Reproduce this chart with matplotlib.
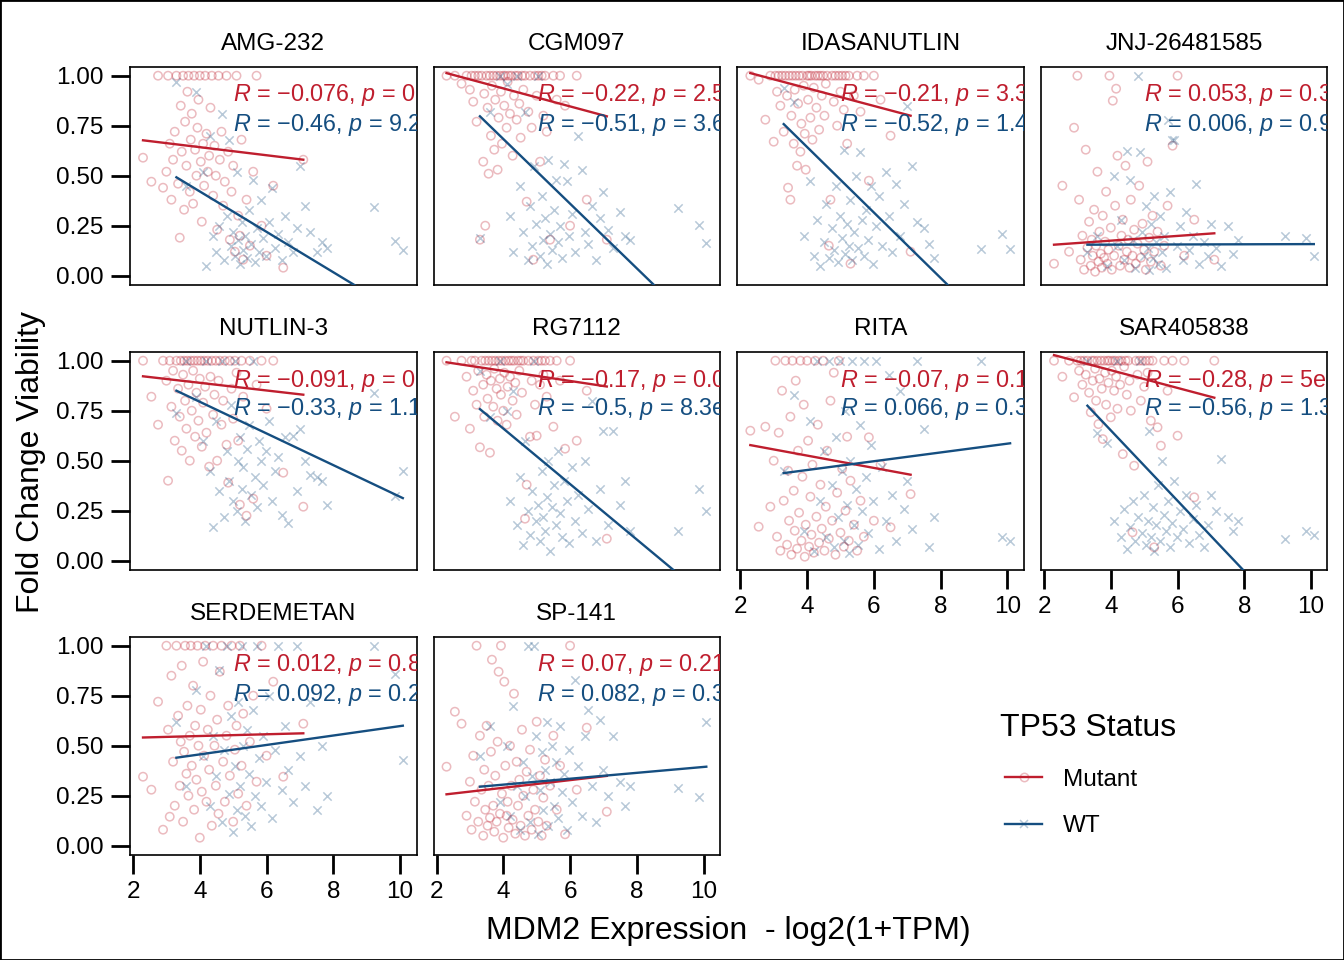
import matplotlib
matplotlib.use("Agg")
import matplotlib.pyplot as plt
from matplotlib.lines import Line2D
from matplotlib.patches import Rectangle

# ====== Data ======
DRUGS = ["AMG-232", "CGM097", "IDASANUTLIN", "JNJ-26481585", "NUTLIN-3",
         "RG7112", "RITA", "SAR405838", "SERDEMETAN", "SP-141"]

# MDM2 expression of the cell lines, log2(1+TPM)
MUT_X = [2.3, 2.55, 2.75, 2.9, 3.0, 3.05, 3.1, 3.15, 3.2, 3.25,
         3.3, 3.35, 3.4, 3.43, 3.46, 3.5, 3.53, 3.56, 3.6, 3.63,
         3.66, 3.7, 3.73, 3.76, 3.8, 3.83, 3.86, 3.9, 3.93, 3.96,
         4.0, 4.03, 4.06, 4.1, 4.13, 4.16, 4.2, 4.24, 4.28, 4.32,
         4.36, 4.4, 4.44, 4.48, 4.52, 4.56, 4.6, 4.65, 4.7, 4.75,
         4.8, 4.85, 4.9, 4.95, 5.0, 5.05, 5.1, 5.15, 5.2, 5.25,
         5.3, 5.4, 5.5, 5.6, 5.7, 5.85, 6.0, 6.2, 6.5, 7.1]
WT_X = [3.3, 3.6, 3.9, 4.1, 4.2, 4.3, 4.4, 4.5, 4.58, 4.66,
        4.74, 4.8, 4.86, 4.92, 4.98, 5.04, 5.1, 5.15, 5.2, 5.25,
        5.3, 5.35, 5.4, 5.46, 5.52, 5.58, 5.64, 5.7, 5.76, 5.82,
        5.9, 5.98, 6.06, 6.15, 6.25, 6.35, 6.45, 6.55, 6.65, 6.78,
        6.9, 7.0, 7.15, 7.3, 7.5, 7.65, 7.8, 9.22, 9.85, 10.08]

# Fold change viability per drug
AMG232_MUT = [0.59, 0.47, 1.0, 0.44, 0.52, 1.0, 0.66, 0.38, 0.58, 0.72,
              1.0, 0.46, 0.19, 0.85, 0.62, 1.0, 0.33, 0.77, 0.55, 0.92,
              1.0, 0.42, 0.68, 0.81, 0.36, 1.0, 0.63, 0.5, 0.74, 0.88,
              1.0, 0.57, 0.27, 0.66, 0.45, 1.0, 0.71, 0.52, 0.6, 0.84,
              1.0, 0.4, 0.65, 0.5, 0.23, 1.0, 0.58, 0.72, 0.35, 0.47,
              1.0, 0.62, 0.18, 0.42, 0.55, 0.12, 1.0, 0.3, 0.2, 0.68,
              0.08, 0.38, 0.15, 0.52, 1.0, 0.25, 0.1, 0.45, 0.04, 0.58]
AMG232_WT = [0.97, 0.45, 0.92, 0.52, 0.05, 0.7, 0.2, 0.12, 0.25, 0.81,
             0.08, 0.3, 0.68, 0.15, 0.22, 0.1, 0.52, 0.18, 0.06, 0.27,
             0.13, 0.2, 0.09, 0.33, 0.16, 0.48, 0.07, 0.24, 0.12, 0.38,
             0.19, 0.1, 0.27, 0.44, 0.14, 0.21, 0.08, 0.3, 0.17, 0.12,
             0.24, 0.55, 0.35, 0.22, 0.12, 0.17, 0.14, 0.345, 0.175, 0.13]

CGM097_MUT = [1.0, 1.0, 0.96, 1.0, 0.93, 1.0, 0.87, 1.0, 0.77, 1.0,
              0.18, 1.0, 0.57, 0.91, 0.25, 1.0, 0.84, 0.51, 1.0, 0.7,
              0.95, 1.0, 0.63, 0.88, 1.0, 0.53, 0.79, 1.0, 0.92, 0.66,
              1.0, 0.85, 1.0, 0.74, 0.97, 1.0, 0.81, 1.0, 0.6, 0.9,
              1.0, 0.78, 1.0, 0.86, 0.69, 1.0, 0.93, 1.0, 0.37, 0.82,
              1.0, 0.74, 0.08, 1.0, 0.9, 1.0, 0.57, 1.0, 0.8, 1.0,
              0.72, 0.18, 1.0, 0.88, 1.0, 0.85, 0.25, 1.0, 0.38, 0.18]
CGM097_WT = [0.19, 0.82, 1.0, 0.96, 0.3, 0.12, 1.0, 0.45, 0.22, 0.82,
             0.08, 0.35, 0.15, 0.55, 0.26, 1.0, 0.1, 0.4, 0.18, 0.29,
             0.06, 0.58, 0.21, 0.13, 0.33, 0.48, 0.17, 0.25, 0.09, 0.56,
             0.475, 0.2, 0.31, 0.12, 0.7, 0.53, 0.22, 0.16, 0.35, 0.08,
             0.29, 0.42, 0.23, 0.14, 0.32, 0.2, 0.18, 0.34, 0.255, 0.165]

IDASANUTLIN_MUT = [1.0, 0.98, 0.78, 1.0, 0.67, 1.0, 0.92, 1.0, 0.85, 1.0,
                   0.72, 1.0, 0.9, 0.44, 1.0, 0.38, 0.8, 1.0, 0.66, 0.93,
                   1.0, 0.55, 0.86, 1.0, 0.62, 0.76, 1.0, 0.95, 0.71, 0.53,
                   1.0, 0.88, 1.0, 0.79, 1.0, 0.68, 0.94, 1.0, 0.84, 1.0,
                   0.73, 1.0, 0.9, 1.0, 0.8, 0.96, 1.0, 0.15, 0.38, 1.0,
                   0.87, 1.0, 0.75, 1.0, 0.92, 1.0, 0.83, 1.0, 0.66, 1.0,
                   0.06, 0.9, 1.0, 0.82, 1.0, 0.475, 1.0, 0.88, 0.7, 0.12]
IDASANUTLIN_WT = [0.94, 0.87, 0.2, 0.475, 0.1, 0.28, 0.05, 0.17, 0.36, 0.09,
                  0.24, 0.13, 0.45, 0.07, 0.3, 0.19, 0.63, 0.11, 0.26, 0.15,
                  0.38, 0.08, 0.22, 0.5, 0.14, 0.62, 0.28, 0.1, 0.33, 0.18,
                  0.45, 0.06, 0.25, 0.4, 0.15, 0.52, 0.3, 0.12, 0.46, 0.2,
                  0.36, 0.85, 0.55, 0.27, 0.24, 0.16, 0.09, 0.133, 0.21, 0.135]

JNJ_MUT = [0.06, 0.45, 0.12, 0.74, 1.0, 0.38, 0.08, 0.2, 0.03, 0.63,
           0.14, 0.27, 0.05, 0.18, 0.1, 0.33, 0.02, 0.15, 0.52, 0.07,
           0.22, 0.11, 0.04, 0.3, 0.09, 0.17, 0.42, 0.06, 0.13, 1.0,
           0.24, 0.03, 0.875, 0.1, 0.35, 0.935, 0.6, 0.15, 0.05, 0.2,
           0.28, 0.08, 0.55, 0.12, 0.18, 0.04, 0.38, 0.1, 0.23, 0.06,
           0.16, 0.45, 0.09, 0.26, 0.13, 0.03, 0.57, 0.19, 0.07, 0.3,
           0.12, 0.22, 0.05, 0.15, 0.35, 0.65, 1.0, 0.1, 0.28, 0.08]
JNJ_WT = [0.12, 0.2, 0.05, 0.5, 0.15, 0.28, 0.08, 0.625, 0.48, 0.18,
          0.04, 1.0, 0.62, 0.22, 0.1, 0.35, 0.14, 0.03, 0.26, 0.09,
          0.4, 0.17, 0.06, 0.3, 0.12, 0.2, 0.04, 0.78, 0.42, 0.68,
          0.68, 0.15, 0.25, 0.08, 0.32, 0.13, 0.2, 0.46, 0.06, 0.17,
          0.1, 0.26, 0.14, 0.05, 0.25, 0.11, 0.18, 0.2, 0.19, 0.1]

NUTLIN3_MUT = [1.0, 0.82, 0.68, 1.0, 0.9, 0.4, 1.0, 0.77, 0.95, 0.6,
               1.0, 0.86, 0.72, 1.0, 0.55, 0.93, 1.0, 0.8, 0.66, 1.0,
               0.88, 0.5, 1.0, 0.75, 0.95, 1.0, 0.62, 0.84, 1.0, 0.7,
               0.91, 1.0, 0.57, 0.79, 1.0, 0.87, 0.64, 1.0, 0.47, 0.92,
               1.0, 0.73, 0.83, 1.0, 0.5, 0.9, 1.0, 0.68, 0.8, 1.0,
               0.58, 0.39, 1.0, 0.86, 0.71, 1.0, 0.94, 0.6, 0.28, 1.0,
               0.82, 0.225, 1.0, 0.31, 0.88, 1.0, 0.76, 1.0, 0.44, 0.27]
NUTLIN3_WT = [0.74, 1.0, 0.82, 0.6, 1.0, 0.45, 0.167, 0.7, 0.35, 1.0,
              0.217, 0.55, 0.4, 0.78, 0.3, 1.0, 0.25, 0.5, 0.62, 0.36,
              0.47, 0.2, 0.56, 0.68, 0.33, 1.0, 0.42, 0.27, 0.6, 0.5,
              0.38, 0.55, 0.7, 0.3, 0.45, 0.52, 0.23, 0.62, 0.19, 0.625,
              0.35, 0.66, 0.5, 0.43, 0.42, 0.4, 0.28, 0.84, 0.325, 0.45]

RG7112_MUT = [1.0, 0.72, 1.0, 0.92, 0.66, 1.0, 0.85, 1.0, 0.78, 0.95,
              0.567, 1.0, 0.88, 0.72, 1.0, 0.93, 0.81, 1.0, 0.54, 0.9,
              1.0, 0.77, 0.96, 1.0, 0.86, 0.7, 1.0, 0.91, 0.83, 1.0,
              0.75, 0.94, 1.0, 0.68, 0.87, 1.0, 0.92, 1.0, 0.8, 1.0,
              0.89, 0.73, 1.0, 0.95, 1.0, 0.84, 1.0, 0.21, 0.38, 1.0,
              0.62, 0.9, 1.0, 0.78, 0.625, 1.0, 0.88, 1.0, 0.93, 1.0,
              0.82, 1.0, 0.67, 1.0, 0.9, 0.56, 1.0, 0.6, 0.85, 0.11]
RG7112_WT = [0.95, 0.72, 1.0, 0.75, 0.3, 0.85, 0.18, 0.42, 0.08, 0.6,
             0.25, 0.13, 0.35, 1.0, 0.2, 0.28, 0.1, 0.45, 0.22, 0.15,
             0.32, 0.5, 0.05, 0.27, 0.38, 0.18, 0.55, 0.24, 0.12, 0.4,
             0.3, 0.09, 0.47, 0.2, 0.33, 0.14, 0.5, 0.26, 0.8, 0.1,
             0.36, 0.65, 0.18, 0.65, 0.28, 0.4, 0.15, 0.15, 0.358, 0.25]

RITA_MUT = [0.65, 0.17, 0.67, 0.27, 0.5, 1.0, 0.12, 0.64, 0.05, 0.85,
            0.3, 1.0, 0.08, 0.45, 0.2, 0.72, 0.03, 1.0, 0.35, 0.15,
            0.9, 0.06, 0.55, 0.24, 1.0, 0.1, 0.42, 0.78, 0.02, 0.18,
            1.0, 0.6, 0.07, 0.32, 0.13, 0.48, 0.04, 1.0, 0.22, 0.68,
            0.09, 0.38, 0.16, 1.0, 0.05, 0.27, 0.55, 0.11, 0.8, 0.2,
            0.94, 0.03, 0.34, 1.0, 0.14, 0.46, 0.07, 0.25, 0.62, 0.1,
            0.4, 0.18, 0.05, 0.3, 0.12, 0.617, 0.2, 0.48, 0.167, 0.333]
RITA_WT = [0.45, 0.83, 0.15, 0.7, 0.05, 1.0, 0.3, 0.55, 0.12, 1.0,
           0.38, 0.07, 0.62, 0.22, 1.0, 0.45, 0.1, 0.75, 0.28, 0.04,
           0.5, 1.0, 0.18, 0.36, 0.08, 0.68, 0.25, 1.0, 0.42, 0.14,
           0.58, 0.3, 1.0, 0.06, 0.47, 0.2, 0.93, 0.33, 0.1, 0.85,
           0.26, 0.4, 0.16, 1.0, 0.66, 0.07, 0.22, 1.0, 0.12, 0.1]

SAR405838_MUT = [1.0, 0.92, 1.0, 0.817, 1.0, 0.95, 1.0, 0.88, 1.0, 0.93,
                 1.0, 0.84, 0.742, 1.0, 0.9, 1.0, 0.96, 0.8, 1.0, 0.683,
                 0.91, 1.0, 0.86, 0.608, 1.0, 0.94, 0.78, 1.0, 0.89, 1.0,
                 0.717, 0.95, 1.0, 0.85, 1.0, 0.92, 0.76, 1.0, 0.88, 1.0,
                 0.533, 0.97, 1.0, 0.83, 1.0, 0.9, 0.75, 0.142, 0.475, 1.0,
                 0.93, 1.0, 0.8, 1.0, 0.87, 1.0, 0.94, 1.0, 0.7, 1.0,
                 0.067, 0.667, 0.575, 1.0, 0.85, 1.0, 0.625, 1.0, 0.317, 1.0]
SAR405838_WT = [1.0, 0.64, 0.59, 0.2, 1.0, 0.12, 0.26, 0.058, 0.17, 0.3,
                0.1, 0.22, 1.0, 0.14, 0.33, 0.08, 0.2, 0.65, 0.12, 0.27,
                0.05, 0.18, 0.38, 0.1, 0.5, 0.23, 0.15, 0.3, 0.07, 0.19,
                0.4, 0.12, 0.25, 0.16, 0.33, 0.09, 0.21, 0.28, 0.13, 0.07,
                0.18, 0.33, 0.25, 0.508, 0.22, 0.15, 0.2, 0.11, 0.147, 0.13]

SERDEMETAN_MUT = [0.345, 0.28, 0.72, 0.08, 1.0, 0.58, 0.145, 0.85, 0.42, 0.2,
                  1.0, 0.65, 0.3, 0.52, 0.9, 0.12, 0.47, 1.0, 0.36, 0.7,
                  0.25, 0.55, 1.0, 0.4, 0.8, 0.18, 0.6, 0.33, 1.0, 0.5,
                  0.04, 0.68, 0.27, 0.92, 0.45, 1.0, 0.22, 0.58, 0.38, 0.75,
                  0.1, 1.0, 0.5, 0.3, 0.63, 0.16, 0.87, 1.0, 0.42, 0.22,
                  0.55, 0.7, 0.35, 1.0, 0.12, 0.48, 0.6, 0.26, 1.0, 0.4,
                  0.66, 0.2, 0.52, 0.75, 0.32, 1.0, 0.45, 0.82, 0.345, 0.61]
SERDEMETAN_WT = [0.62, 0.3, 0.78, 0.45, 1.0, 0.2, 0.55, 0.35, 0.88, 0.12,
                 0.48, 1.0, 0.26, 0.65, 0.07, 0.4, 0.18, 0.72, 0.3, 1.0,
                 0.5, 0.15, 0.58, 0.36, 0.1, 0.68, 0.25, 1.0, 0.44, 0.2,
                 0.55, 0.32, 0.75, 0.14, 0.48, 1.0, 0.28, 0.6, 0.38, 0.22,
                 1.0, 0.45, 0.3, 0.72, 0.18, 0.5, 0.25, 1.0, 0.86, 0.43]

SP141_MUT = [0.395, 0.67, 0.61, 0.15, 0.32, 0.08, 0.45, 0.22, 1.0, 0.12,
             0.55, 0.28, 0.05, 0.38, 0.18, 0.6, 0.1, 0.3, 0.14, 0.47,
             0.93, 0.2, 0.07, 0.35, 0.12, 0.52, 0.87, 0.16, 1.0, 0.26,
             0.04, 0.82, 0.4, 0.15, 0.22, 0.09, 0.5, 0.3, 0.13, 0.76,
             0.06, 0.42, 0.2, 0.33, 0.1, 0.58, 0.25, 0.05, 0.37, 0.15,
             0.48, 0.08, 0.28, 0.18, 0.62, 0.12, 0.35, 0.05, 0.24, 0.43,
             0.1, 0.3, 0.55, 0.18, 0.4, 0.057, 1.0, 0.28, 0.59, 0.17]
SP141_WT = [0.45, 0.6, 0.22, 0.5, 0.15, 0.7, 0.3, 0.08, 0.42, 0.25,
            1.0, 0.12, 0.35, 1.0, 0.55, 0.06, 0.28, 0.47, 0.18, 0.38,
            0.62, 0.1, 0.32, 0.5, 0.2, 0.42, 0.14, 0.6, 0.27, 0.36,
            0.08, 0.48, 0.22, 0.83, 0.4, 0.15, 0.55, 0.68, 0.3, 0.12,
            0.63, 0.38, 0.25, 0.55, 0.32, 0.2, 0.3, 0.287, 0.245, 0.62]

MUT_Y = [AMG232_MUT, CGM097_MUT, IDASANUTLIN_MUT, JNJ_MUT, NUTLIN3_MUT,
         RG7112_MUT, RITA_MUT, SAR405838_MUT, SERDEMETAN_MUT, SP141_MUT]
WT_Y = [AMG232_WT, CGM097_WT, IDASANUTLIN_WT, JNJ_WT, NUTLIN3_WT,
        RG7112_WT, RITA_WT, SAR405838_WT, SERDEMETAN_WT, SP141_WT]

# linear fits: value at the lowest and highest MDM2 of each group
MUT_FIT_START = [0.677, 1.013, 1.013, 0.155, 0.922, 0.992, 0.578, 1.028, 0.541, 0.257]
MUT_FIT_END = [0.58, 0.797, 0.80, 0.212, 0.83, 0.871, 0.43, 0.815, 0.562, 0.349]
WT_FIT_START = [0.492, 0.797, 0.758, 0.155, 0.85, 0.758, 0.438, 0.775, 0.44, 0.295]
WT_FIT_END = [-0.193, -0.30, -0.352, 0.158, 0.313, -0.183, 0.587, -0.419, 0.60, 0.395]

# correlation labels
MUT_R = ["−0.076", "−0.22", "−0.21", "0.053", "−0.091", "−0.17", "−0.07", "−0.28", "0.012", "0.07"]
MUT_P = ["0.18", "2.5e−05", "3.3e−05", "0.32", "0.086", "0.0012", "0.19", "5e−08", "0.82", "0.21"]
WT_R = ["−0.46", "−0.51", "−0.52", "0.006", "−0.33", "−0.5", "0.066", "−0.56", "0.092", "0.082"]
WT_P = ["9.2e−09", "3.6e−11", "1.4e−11", "0.94", "1.1e−05", "8.3e−11", "0.38", "1.3e−13", "0.22", "0.32"]

RED = "#BF1E2E"
BLUE = "#154E80"

plt.rcParams['font.family'] = ['Liberation Sans', 'DejaVu Sans']
plt.rcParams['mathtext.fontset'] = 'custom'
plt.rcParams['mathtext.rm'] = 'Liberation Sans'
plt.rcParams['mathtext.it'] = 'Liberation Sans:italic'

W, H = 1344, 960
fig = plt.figure(figsize=(W / 100, H / 100), dpi=100)

col_left = [130, 433.5, 737.3, 1041]
row_top = [66.7, 351.7, 636.7]
pw, ph = 286.5, 218

for i, name in enumerate(DRUGS):
    r, c = divmod(i, 4)
    ax = fig.add_axes([col_left[c] / W, 1 - (row_top[r] + ph) / H, pw / W, ph / H])

    ax.scatter(MUT_X, MUT_Y[i], s=36, marker='o', facecolors='none',
               edgecolors=RED, linewidths=1.1, alpha=0.3, zorder=2)
    ax.scatter(WT_X, WT_Y[i], s=36, marker='x', c=BLUE,
               linewidths=1.1, alpha=0.3, zorder=2)

    ax.plot([min(MUT_X), max(MUT_X)], [MUT_FIT_START[i], MUT_FIT_END[i]],
            color=RED, lw=1.7, zorder=3)
    ax.plot([min(WT_X), max(WT_X)], [WT_FIT_START[i], WT_FIT_END[i]],
            color=BLUE, lw=1.7, zorder=3)

    ax.text(5.0, 0.871, f"$\\it{{R}}$ = {MUT_R[i]}, $\\it{{p}}$ = {MUT_P[i]}",
            color=RED, fontsize=16.8, ha='left', va='baseline', clip_on=True, zorder=4)
    ax.text(5.0, 0.726, f"$\\it{{R}}$ = {WT_R[i]}, $\\it{{p}}$ = {WT_P[i]}",
            color=BLUE, fontsize=16.8, ha='left', va='baseline', clip_on=True, zorder=4)

    ax.text(0.5, 1 + 16.7 / ph, name, transform=ax.transAxes,
            ha='center', va='baseline', fontsize=17.5)

    ax.set_xlim(1.91, 10.49)
    ax.set_ylim(-0.045, 1.045)
    for sp in ax.spines.values():
        sp.set_linewidth(1.2)

    if c == 0:
        ax.set_yticks([0, 0.25, 0.5, 0.75, 1.0])
        ax.set_yticklabels(["0.00", "0.25", "0.50", "0.75", "1.00"])
    else:
        ax.set_yticks([])
    if r == 2 or (r == 1 and c >= 2):
        ax.set_xticks([2, 4, 6, 8, 10])
        ax.set_xticklabels(["2", "4", "6", "8", "10"])
    else:
        ax.set_xticks([])
    ax.tick_params(direction='out', length=14, width=2, labelsize=17.5, pad=5)

# axis titles
fig.text(31 / W, 1 - 462 / H, "Fold Change Viability", rotation=90,
         fontsize=23, ha='center', va='center')
fig.text(728 / W, 1 - 939 / H, "MDM2 Expression  - log2(1+TPM)",
         fontsize=23, ha='center', va='baseline')

# legend
fig.text(1000 / W, 1 - 736 / H, "TP53 Status", fontsize=23, ha='left', va='baseline')
for label, color, mk, yc in [("Mutant", RED, 'o', 777.3), ("WT", BLUE, 'x', 824)]:
    yf = 1 - yc / H
    fig.add_artist(Line2D([1005 / W, 1042 / W], [yf, yf], color=color, lw=1.7,
                          transform=fig.transFigure))
    fig.add_artist(Line2D([1023.5 / W], [yf], marker=mk, markersize=6,
                          markerfacecolor='none', markeredgecolor=color,
                          markeredgewidth=1.1, alpha=0.3, linestyle='none',
                          transform=fig.transFigure))
    fig.text(1063 / W, 1 - (yc + 8.5) / H, label, fontsize=17.5,
             ha='left', va='baseline')

# outer frame
fig.add_artist(Rectangle((0, 0), 1, 1, transform=fig.transFigure,
                         fill=False, edgecolor='black', lw=2))

fig.savefig("out.png", dpi=100)
